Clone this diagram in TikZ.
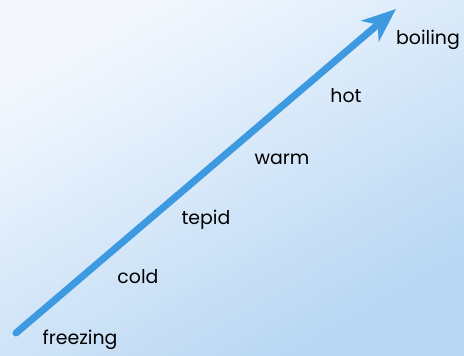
\documentclass[tikz,border=0pt]{standalone}
\usepackage{fontspec}
\setmainfont{Poppins}
\usetikzlibrary{arrows.meta}
\definecolor{bgtl}{HTML}{F4F8FE}
\definecolor{bgbr}{HTML}{B6D6F3}
\definecolor{arrowblue}{HTML}{3D9AE0}
\tikzset{lbl/.style={font=\fontsize{19}{21}\selectfont, text=black, inner sep=0pt}}
\begin{document}
\begin{tikzpicture}[x=1bp,y=-1bp]
\useasboundingbox (0,0) rectangle (464,355);
\shade[shading=axis, top color=bgtl, bottom color=bgbr, shading angle=30] (0,0) rectangle (464,355);
\coordinate (s) at (16,333);
\coordinate (e) at (396,9);
\draw[arrowblue, line width=7bp, line cap=round, -{Stealth[length=34bp, width=27bp, inset=10bp]}] (s) -- (e);
\node[lbl] (freezing) at (80,340) {freezing};
\node[lbl] (cold) at (138,277) {cold};
\node[lbl] (tepid) at (206,220) {tepid};
\node[lbl] (warm) at (282,159) {warm};
\node[lbl] (hot) at (346,96) {hot};
\node[lbl] (boiling) at (428,40) {boiling};
\end{tikzpicture}
\end{document}
